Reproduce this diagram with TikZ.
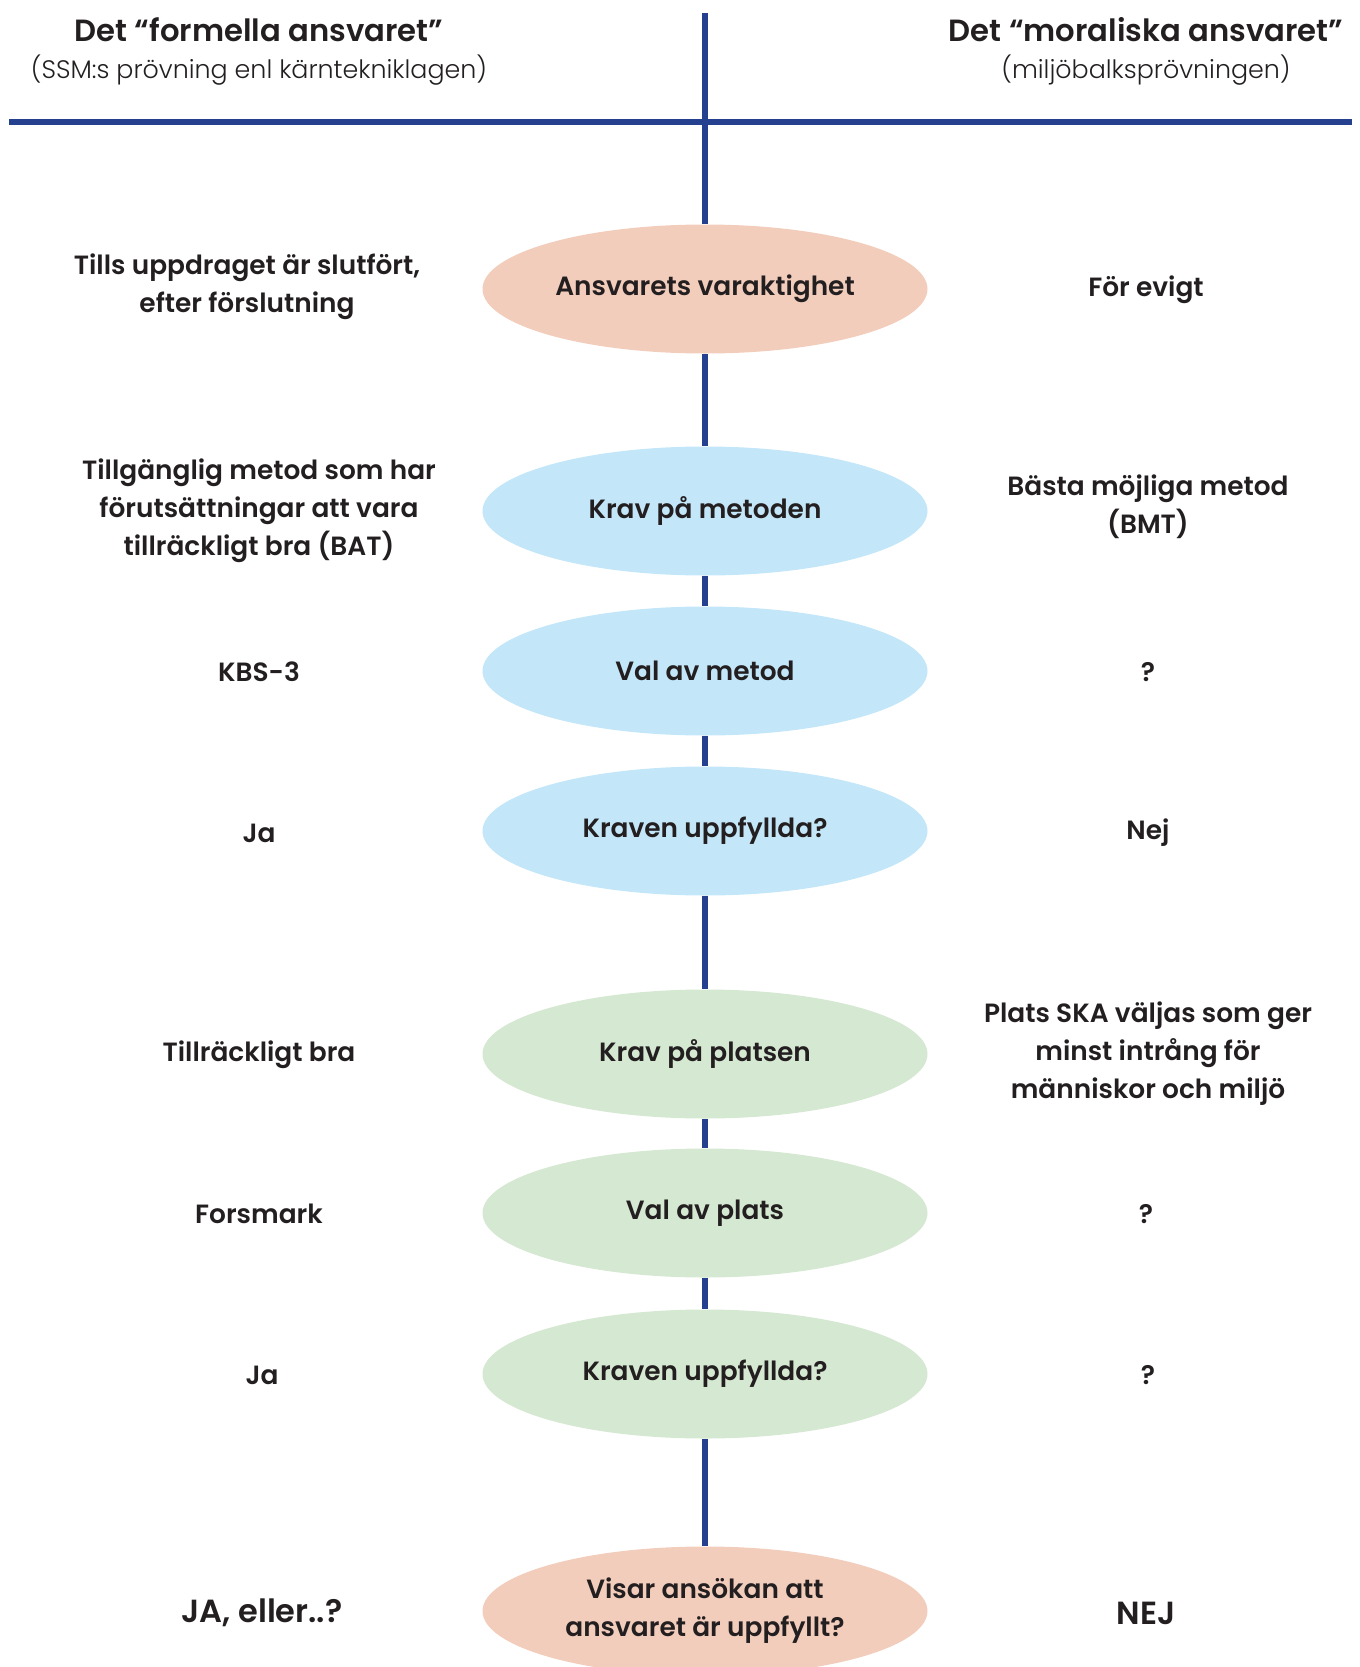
\documentclass[tikz,border=0pt]{standalone}
\usepackage{fontspec}
\setmainfont{Poppins}[BoldFont={Poppins SemiBold}]
\newfontfamily\lightfont{Poppins Light}
\usetikzlibrary{shapes.geometric}
\definecolor{navy}{HTML}{24408E}
\definecolor{salmon}{HTML}{F3CDBC}
\definecolor{skyb}{HTML}{C3E6F8}
\definecolor{mint}{HTML}{D5E8D1}
\definecolor{ink}{HTML}{231F20}
\begin{document}
\begin{tikzpicture}[x=0.75pt,y=-0.75pt,
  oval/.style={ellipse,minimum width=333.75pt,minimum height=96.75pt,inner sep=0pt,draw=none,text=ink,align=center,font=\bfseries\fontsize{19.8}{28.5}\selectfont},
  side/.style={text=ink,align=center,yshift=-2.3pt,font=\bfseries\fontsize{19.8}{28.5}\selectfont},
  big/.style={text=ink,align=center,yshift=-1.5pt,font=\bfseries\fontsize{24}{28.5}\selectfont},
  head/.style={text=ink,align=center,font=\bfseries\fontsize{23}{26}\selectfont},
  sub/.style={text=ink,align=center,font=\lightfont\fontsize{19}{22}\selectfont},
  rule/.style={draw=navy,line width=5pt}]
\useasboundingbox (0,0) rectangle (1360,1667);
% headers
\node[head] (hL) at (259,30) {Det “formella ansvaret”};
\node[sub] (sL) at (259,70) {(SSM:s prövning enl kärntekniklagen)};
\node[head] (hR) at (1146,30) {Det “moraliska ansvaret”};
\node[sub] (sR) at (1146,70) {(miljöbalksprövningen)};
% coordinates for the rules
\coordinate (vtop) at (705,13);
\coordinate (hl) at (9,122);
\coordinate (hr) at (1352,122);
% ellipses
\node[oval,fill=salmon] (e1) at (705,289) {Ansvarets varaktighet};
\node[oval,fill=skyb] (e2) at (705,511) {Krav på metoden};
\node[oval,fill=skyb] (e3) at (705,671) {Val av metod};
\node[oval,fill=skyb] (e4) at (705,831) {Kraven uppfyllda?};
\node[oval,fill=mint] (e5) at (705,1054) {Krav på platsen};
\node[oval,fill=mint] (e6) at (705,1213) {Val av plats};
\node[oval,fill=mint] (e7) at (705,1374) {Kraven uppfyllda?};
\node[oval,fill=salmon] (e8) at (705,1611) {Visar ansökan att\\ansvaret är uppfyllt?};
% rules
\draw[rule] (hl) -- (hr);
\draw[rule] (vtop) -- (e1.north);
\draw[rule] (e1.south) -- (e2.north);
\draw[rule] (e2.south) -- (e3.north);
\draw[rule] (e3.south) -- (e4.north);
\draw[rule] (e4.south) -- (e5.north);
\draw[rule] (e5.south) -- (e6.north);
\draw[rule] (e6.south) -- (e7.north);
\draw[rule] (e7.south) -- (e8.north);
% left column
\node[side] (l1) at (247,284) {Tills uppdraget är slutfört,\\efter förslutning};
\node[side] (l2) at (259,508) {Tillgänglig metod som har\\förutsättningar att vara\\tillräckligt bra (BAT)};
\node[side] (l3) at (259,669) {KBS-3};
\node[side] (l4) at (259,830) {Ja};
\node[side] (l5) at (259,1052) {Tillräckligt bra};
\node[side] (l6) at (259,1211) {Forsmark};
\node[side] (l7) at (262,1372) {Ja};
\node[big] (l8) at (262,1611) {JA, eller..?};
% right column
\node[side] (r1) at (1146,287) {För evigt};
\node[side] (r2) at (1148,504) {Bästa möjliga metod\\(BMT)};
\node[side] (r3) at (1148,669) {?};
\node[side] (r4) at (1148,830) {Nej};
\node[side] (r5) at (1148,1051) {Plats SKA väljas som ger\\minst intrång för\\människor och miljö};
\node[side] (r6) at (1146,1211) {?};
\node[side] (r7) at (1148,1372) {?};
\node[big] (r8) at (1146,1611) {NEJ};
\end{tikzpicture}
\end{document}
